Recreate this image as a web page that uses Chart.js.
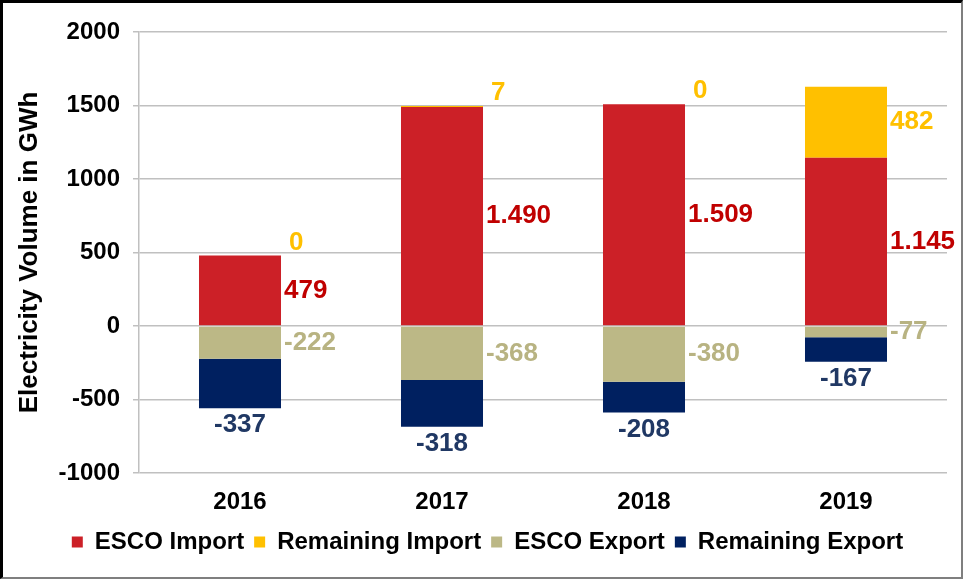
<!DOCTYPE html>
<html>
<head>
<meta charset="utf-8">
<script src="https://cdn.jsdelivr.net/npm/chart.js@4.4.1/dist/chart.umd.min.js"></script>
<style>
  html, body { margin: 0; padding: 0; background: #fff; }
  #wrap { position: relative; width: 963px; height: 579px; }
  #frame { position: absolute; left: 0; top: 0; width: 963px; height: 579px; box-sizing: border-box;
           border-top: 3px solid #000; border-left: 3px solid #000;
           border-right: 2px solid #7f7f7f; border-bottom: 2px solid #7f7f7f; pointer-events: none; }
</style>
</head>
<body>
<div id="wrap">
  <canvas id="chart" width="963" height="579"></canvas>
  <div id="frame"></div>
</div>
<script>
// Electricity import / export volumes per year (GWh)
const years = ['2016', '2017', '2018', '2019'];
const escoImport = [479, 1490, 1509, 1145];
const remainingImport = [0, 7, 0, 482];
const escoExport = [-222, -368, -380, -77];
const remainingExport = [-337, -318, -208, -167];

const yMin = -1000, yMax = 2000, yStep = 500;

const FONT = "'Liberation Sans', Arial, sans-serif";

// 1490 -> "1.490"
function fmt(v) {
    return String(v).replace(/\B(?=(\d{3})+(?!\d))/g, '.');
}

// value labels next to / under each segment
const segmentLabels = {
    id: 'segmentLabels',
    afterDatasetsDraw(chart) {
        const ctx = chart.ctx;
        ctx.save();
        ctx.font = `bold 26px ${FONT}`;
        chart.data.datasets.forEach((ds, di) => {
            const meta = chart.getDatasetMeta(di);
            meta.data.forEach((bar, i) => {
                const v = ds.data[i];
                const right = bar.x + bar.width / 2;
                const top = Math.min(bar.y, bar.base), bottom = Math.max(bar.y, bar.base);
                const mid = (top + bottom) / 2;
                ctx.fillStyle = ds.labelColor;
                ctx.textBaseline = 'middle';
                if (di === 3) {
                    ctx.textAlign = 'center';
                    ctx.fillText(fmt(v), bar.x, bottom + 17);
                } else if (di === 1 && bottom - top < 20) {
                    ctx.textAlign = 'left';
                    ctx.fillText(fmt(v), right + 8, top - 13);
                } else {
                    ctx.textAlign = 'left';
                    ctx.fillText(fmt(v), right + 3, mid);
                }
            });
        });
        ctx.restore();
    }
};

// legend sits a bit right of the plot centre
const legendShift = {
    id: 'legendShift',
    afterLayout(chart) {
        chart.legend.left += 14;
        chart.legend.right += 14;
    }
};

new Chart(document.getElementById('chart'), {
    type: 'bar',
    data: {
        labels: years,
        datasets: [
            { label: 'ESCO Import', data: escoImport, backgroundColor: '#CC2027', labelColor: '#C00000' },
            { label: 'Remaining Import', data: remainingImport, backgroundColor: '#FFC000', labelColor: '#FFC000' },
            { label: 'ESCO Export', data: escoExport, backgroundColor: '#BCB886', labelColor: '#B8B382' },
            { label: 'Remaining Export', data: remainingExport, backgroundColor: '#002060', labelColor: '#203864' }
        ]
    },
    options: {
        responsive: false,
        animation: false,
        barPercentage: 0.406,
        categoryPercentage: 1,
        layout: { padding: { top: 32, right: 16, bottom: 15, left: 0 } },
        plugins: {
            tooltip: { enabled: false },
            legend: {
                position: 'bottom',
                labels: {
                    color: '#000',
                    font: { family: FONT, size: 24, weight: 'bold' },
                    boxWidth: 11, boxHeight: 11, padding: 10
                }
            }
        },
        scales: {
            x: {
                stacked: true,
                grid: { display: false },
                border: { display: false },
                ticks: { color: '#000', font: { family: FONT, size: 24, weight: 'bold' }, padding: 7 },
                afterFit(scale) { scale.height = 47; }
            },
            y: {
                stacked: true,
                min: yMin, max: yMax,
                ticks: {
                    stepSize: yStep, color: '#000', padding: 13,
                    font: { family: FONT, size: 24, weight: 'bold' },
                    callback: v => String(v)
                },
                grid: { color: '#C0C0C0', lineWidth: 1.5, tickLength: 6 },
                border: { display: true, color: '#C0C0C0', width: 1.5 },
                title: {
                    display: true, text: 'Electricity Volume in GWh', color: '#000',
                    font: { family: FONT, size: 26, weight: 'bold' },
                    padding: { top: 14, bottom: 0 }
                },
                afterFit(scale) { scale.width = 139; }
            }
        }
    },
    plugins: [segmentLabels, legendShift]
});
</script>
</body>
</html>
